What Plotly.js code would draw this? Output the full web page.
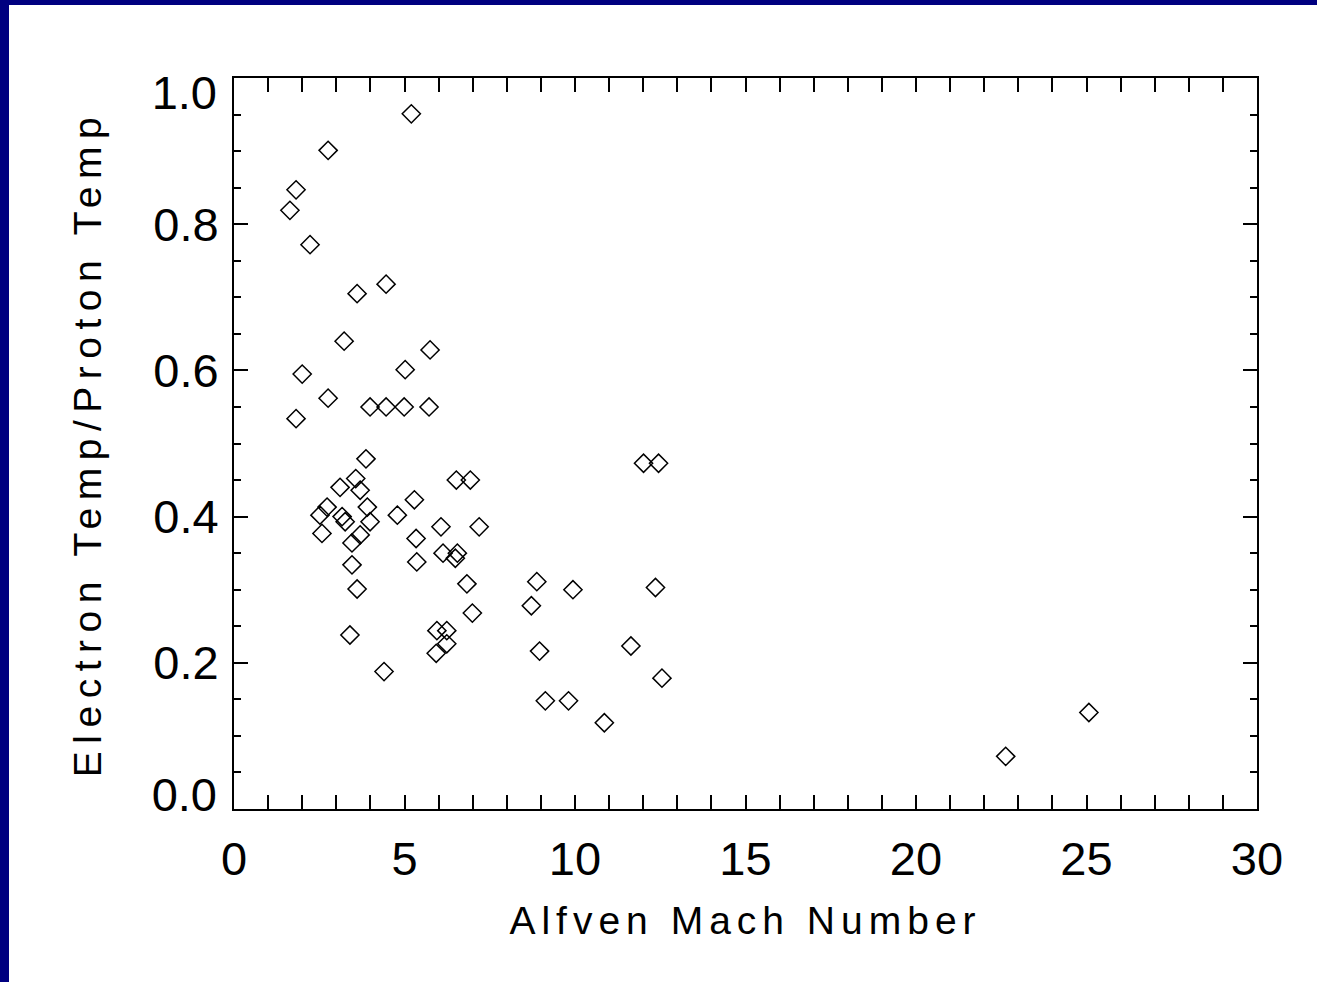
<!DOCTYPE html>
<html><head><meta charset="utf-8">
<script src="https://cdn.plot.ly/plotly-3.0.1.min.js"></script>
<style>
html,body{margin:0;padding:0;background:#fff;overflow:hidden;}
#chart{position:absolute;left:0;top:0;width:1317px;height:982px;}
#bl{position:absolute;left:0;top:0;width:9px;height:982px;background:#000080;z-index:5;}
#bt{position:absolute;left:0;top:0;width:1317px;height:5px;background:#000080;z-index:5;}
.xtitle{letter-spacing:6px;}
.ytitle{letter-spacing:7.5px;}
</style>
</head><body>
<div id="chart"></div><div id="bl"></div><div id="bt"></div>
<script>
// Alfven Mach number (x) and electron/proton temperature ratio (y)
var machNumber = [5.20,2.76,1.82,1.64,2.23,4.46,3.61,3.23,5.75,5.02,2.00,2.76,3.99,4.46,4.99,5.72,1.82,
  3.87,3.57,3.11,3.70,3.91,2.73,2.52,3.17,3.26,3.99,3.70,2.58,3.46,3.46,3.61,3.40,4.40,
  5.29,4.79,6.52,6.93,6.07,7.19,5.34,6.13,6.55,6.49,5.36,6.83,6.99,5.95,6.24,6.24,5.93,
  8.88,9.94,8.72,12.36,8.96,11.64,12.55,9.13,9.81,10.86,12.01,12.45,25.07,22.63];
var tempRatio = [0.951,0.901,0.847,0.819,0.772,0.718,0.705,0.640,0.628,0.601,0.595,0.562,0.550,0.550,0.550,0.550,0.534,
  0.479,0.452,0.440,0.436,0.413,0.413,0.402,0.400,0.393,0.393,0.375,0.377,0.364,0.334,0.301,0.238,0.188,
  0.423,0.402,0.450,0.450,0.386,0.386,0.370,0.350,0.350,0.343,0.338,0.308,0.268,0.244,0.244,0.226,0.213,
  0.311,0.300,0.278,0.303,0.216,0.223,0.179,0.148,0.148,0.118,0.473,0.473,0.132,0.072];

var xTickVals = [0,5,10,15,20,25,30];
var xTickText = ['0','5','10','15','20','25','30'];
var yTickVals = [0,0.2,0.4,0.6,0.8,1.0];
var yTickTextMid = ['','0.2','0.4','0.6','0.8',''];
var yTopVal = [1.0], yTopText = ['1.0'];
var yBotVal = [0.0], yBotText = ['0.0'];

var FONT = 'Liberation Sans, Arial, sans-serif';
var tickFont = {family: FONT, size: 47, color: '#000'};

var traces = [
  {x: machNumber, y: tempRatio, type: 'scatter', mode: 'markers',
   marker: {symbol: 'diamond-open', size: 14, color: '#000', line: {width: 1.5, color: '#000'}},
   hoverinfo: 'x+y', showlegend: false},
  {x: [], y: [], xaxis: 'x', yaxis: 'y2', type: 'scatter', showlegend: false},
  {x: [], y: [], xaxis: 'x', yaxis: 'y3', type: 'scatter', showlegend: false}
];

var layout = {
  width: 1317, height: 982,
  margin: {l: 234, r: 60, t: 78, b: 173},
  paper_bgcolor: '#fff', plot_bgcolor: '#fff',
  showlegend: false,
  xaxis: {
    range: [0, 30], tickmode: 'array', tickvals: xTickVals, ticktext: xTickText,
    ticks: 'inside', ticklen: 14, tickwidth: 2, tickcolor: '#000',
    minor: {dtick: 1, ticks: 'inside', ticklen: 7, tickwidth: 2, tickcolor: '#000', showgrid: false},
    showline: true, linewidth: 2, linecolor: '#000', mirror: 'allticks',
    showgrid: false, zeroline: false, tickfont: tickFont, ticklabelstandoff: 8,
    title: {text: 'Alfven Mach Number', font: {family: FONT, size: 39, color: '#000'}, standoff: 22}
  },
  yaxis: {
    range: [0, 1], tickmode: 'array', tickvals: yTickVals, ticktext: yTickTextMid,
    ticks: 'inside', ticklen: 14, tickwidth: 2, tickcolor: '#000',
    minor: {dtick: 0.05, ticks: 'inside', ticklen: 7, tickwidth: 2, tickcolor: '#000', showgrid: false},
    showline: true, linewidth: 2, linecolor: '#000', mirror: 'allticks',
    showgrid: false, zeroline: false, tickfont: tickFont, ticklabelstandoff: 4,
    title: {text: 'Electron Temp/Proton Temp', font: {family: FONT, size: 39, color: '#000'}, standoff: 40}
  },
  yaxis2: {
    overlaying: 'y', anchor: 'x', side: 'left', range: [0, 1],
    tickmode: 'array', tickvals: yTopVal, ticktext: yTopText, ticks: '',
    showline: false, showgrid: false, zeroline: false, tickfont: tickFont,
    ticklabelshift: 15, ticklabelstandoff: 16
  },
  yaxis3: {
    overlaying: 'y', anchor: 'x', side: 'left', range: [0, 1],
    tickmode: 'array', tickvals: yBotVal, ticktext: yBotText, ticks: '',
    showline: false, showgrid: false, zeroline: false, tickfont: tickFont,
    ticklabelshift: -14, ticklabelstandoff: 16
  }
};

Plotly.newPlot('chart', traces, layout, {displayModeBar: false, staticPlot: true});
</script>
</body></html>
